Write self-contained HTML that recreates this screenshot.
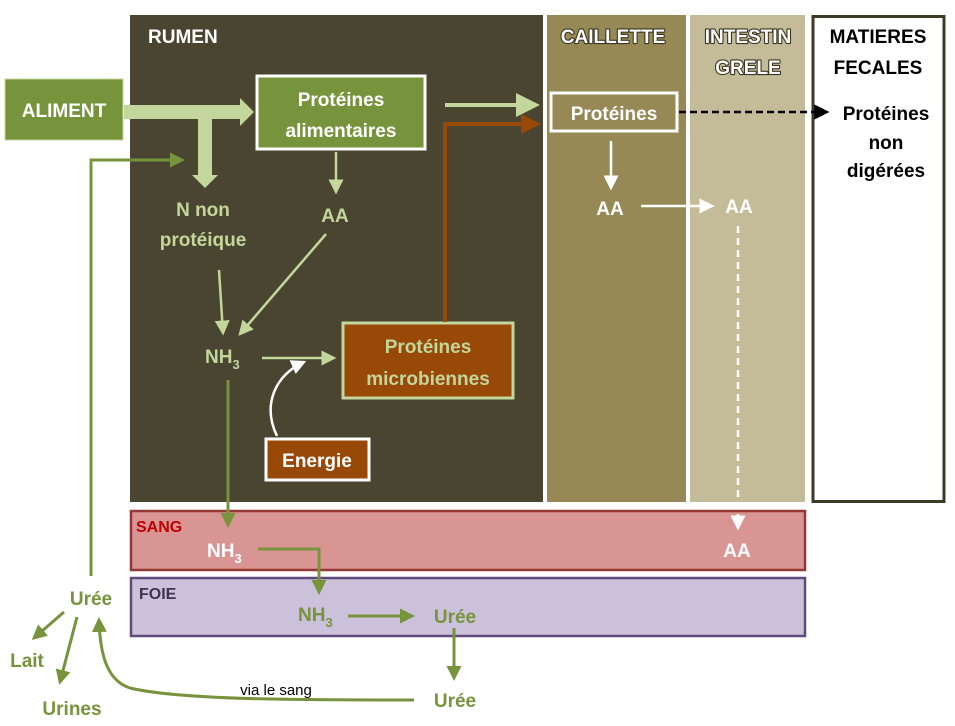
<!DOCTYPE html>
<html><head><meta charset="utf-8"><style>
html,body{margin:0;padding:0;background:#fff;}
svg{display:block;}
text{font-family:"Liberation Sans",sans-serif;font-weight:bold;}
.ol{paint-order:stroke;stroke:#3a3520;stroke-width:2.2px;stroke-linejoin:round;}
</style></head><body>
<svg width="955" height="726" viewBox="0 0 955 726">
<defs>
<marker id="mL" markerWidth="6" markerHeight="6" refX="5" refY="3" orient="auto" markerUnits="strokeWidth"><path d="M0,0 L6,3 L0,6 Z" fill="#c3d69b"/></marker>
<marker id="mG" markerWidth="5" markerHeight="5" refX="4" refY="2.5" orient="auto" markerUnits="strokeWidth"><path d="M0,0 L5,2.5 L0,5 Z" fill="#77933c"/></marker>
<marker id="mW" markerWidth="6" markerHeight="6" refX="5" refY="3" orient="auto" markerUnits="strokeWidth"><path d="M0,0 L6,3 L0,6 Z" fill="#fff"/></marker>
<marker id="mB" markerWidth="5" markerHeight="5" refX="4" refY="2.5" orient="auto" markerUnits="strokeWidth"><path d="M0,0 L5,2.5 L0,5 Z" fill="#984807"/></marker>
<marker id="mK" markerWidth="6" markerHeight="6" refX="5" refY="3" orient="auto" markerUnits="strokeWidth"><path d="M0,0 L6,3 L0,6 Z" fill="#000"/></marker>
</defs>
<rect x="130" y="15" width="413" height="487" fill="#4a4530"/>
<rect x="547" y="15" width="139" height="487" fill="#968955"/>
<rect x="690" y="15" width="115" height="487" fill="#c4bc98"/>
<rect x="813" y="16.5" width="131" height="485" fill="#fff" stroke="#3d3a28" stroke-width="3"/>
<rect x="131" y="511" width="674" height="59" fill="#d99594" stroke="#953735" stroke-width="2.5"/>
<rect x="131" y="578" width="674" height="58" fill="#ccc1da" stroke="#604a7b" stroke-width="2.5"/>

<text x="148" y="43" fill="#fff" font-size="19">RUMEN</text>
<text class="ol" x="613" y="43" fill="#fff" font-size="19" text-anchor="middle">CAILLETTE</text>
<text class="ol" x="748" y="43" fill="#fff" font-size="19" text-anchor="middle"><tspan x="748">INTESTIN</tspan><tspan x="748" dy="31">GRELE</tspan></text>
<text x="878" y="43" fill="#000" font-size="19" text-anchor="middle"><tspan x="878">MATIERES</tspan><tspan x="878" dy="31">FECALES</tspan></text>
<text x="136" y="532" fill="#c00000" font-size="16">SANG</text>
<text x="139" y="599" fill="#3f3151" font-size="16">FOIE</text>

<rect x="5" y="79" width="118" height="61" fill="#77933c" stroke="#c3d69b" stroke-width="1"/>
<text x="64" y="117" fill="#fff" font-size="19" text-anchor="middle">ALIMENT</text>
<path d="M124,105 H240 V98 L254,112 L240,126 V119 H212 V175 H218 L205,188 L192,175 H198 V119 H124 Z" fill="#c3d69b"/>

<rect x="257" y="76" width="168" height="73" fill="#77933c" stroke="#fff" stroke-width="3"/>
<text fill="#fff" font-size="19" text-anchor="middle"><tspan x="341" y="106">Protéines</tspan><tspan x="341" y="137">alimentaires</tspan></text>

<line x1="336" y1="152" x2="336" y2="192" stroke="#c3d69b" stroke-width="2.5" marker-end="url(#mL)"/>
<text fill="#c3d69b" font-size="19" text-anchor="middle"><tspan x="203" y="216">N non</tspan><tspan x="203" y="246">protéique</tspan></text>
<text x="335" y="222" fill="#c3d69b" font-size="19" text-anchor="middle">AA</text>
<line x1="219" y1="270" x2="223" y2="333" stroke="#c3d69b" stroke-width="2.5" marker-end="url(#mL)"/>
<line x1="326" y1="234" x2="240" y2="334" stroke="#c3d69b" stroke-width="2.5" marker-end="url(#mL)"/>
<text x="205" y="363" fill="#c3d69b" font-size="19">NH<tspan font-size="13" dy="6">3</tspan></text>
<line x1="262" y1="358" x2="334" y2="358" stroke="#c3d69b" stroke-width="2.5" marker-end="url(#mL)"/>

<rect x="343" y="323" width="170" height="75" fill="#984807" stroke="#c3d69b" stroke-width="3"/>
<text fill="#c3d69b" font-size="19" text-anchor="middle"><tspan x="428" y="353">Protéines</tspan><tspan x="428" y="385">microbiennes</tspan></text>
<rect x="266" y="439" width="103" height="41" fill="#984807" stroke="#fff" stroke-width="3"/>
<text x="317" y="467" fill="#fff" font-size="19" text-anchor="middle">Energie</text>
<path d="M277,436 C262,405 275,375 304,362" fill="none" stroke="#fff" stroke-width="2.5" marker-end="url(#mW)"/>

<path d="M445,322 V124 H537" fill="none" stroke="#984807" stroke-width="4" marker-end="url(#mB)"/>
<line x1="445" y1="105" x2="536" y2="105" stroke="#c3d69b" stroke-width="4" marker-end="url(#mL)"/>

<rect x="551" y="93" width="126" height="38" fill="#968955" stroke="#fff" stroke-width="3"/>
<text x="614" y="120" fill="#fff" font-size="19" text-anchor="middle">Protéines</text>
<line x1="679" y1="112" x2="827" y2="112" stroke="#000" stroke-width="2.5" stroke-dasharray="7,4" marker-end="url(#mK)"/>
<text fill="#000" font-size="19" text-anchor="middle"><tspan x="886" y="120">Protéines</tspan><tspan x="886" y="149">non</tspan><tspan x="886" y="177">digérées</tspan></text>
<line x1="611" y1="141" x2="611" y2="188" stroke="#fff" stroke-width="2.5" marker-end="url(#mW)"/>
<text x="610" y="215" fill="#fff" font-size="19" text-anchor="middle">AA</text>
<line x1="641" y1="206" x2="712" y2="206" stroke="#fff" stroke-width="2.5" marker-end="url(#mW)"/>
<text x="739" y="213" fill="#fff" font-size="19" text-anchor="middle">AA</text>
<line x1="738" y1="226" x2="738" y2="528" stroke="#fff" stroke-width="2.5" stroke-dasharray="7,5" marker-end="url(#mW)"/>
<text x="737" y="557" fill="#fff" font-size="19" text-anchor="middle">AA</text>

<line x1="228" y1="380" x2="228" y2="525" stroke="#77933c" stroke-width="3" marker-end="url(#mG)"/>
<text x="207" y="557" fill="#fff" font-size="19">NH<tspan font-size="13" dy="6">3</tspan></text>
<path d="M258,549 H319 V592" fill="none" stroke="#77933c" stroke-width="3" marker-end="url(#mG)"/>
<text x="298" y="621" fill="#77933c" font-size="19">NH<tspan font-size="13" dy="6">3</tspan></text>
<line x1="348" y1="616" x2="412" y2="616" stroke="#77933c" stroke-width="3" marker-end="url(#mG)"/>
<text x="455" y="623" fill="#77933c" font-size="19" text-anchor="middle">Urée</text>
<line x1="454" y1="628" x2="454" y2="678" stroke="#77933c" stroke-width="3" marker-end="url(#mG)"/>
<text x="455" y="707" fill="#77933c" font-size="19" text-anchor="middle">Urée</text>
<path d="M414,700 C300,700 180,700 130,688 C105,680 100,650 99,620" fill="none" stroke="#77933c" stroke-width="3" marker-end="url(#mG)"/>
<text x="276" y="695" fill="#000" font-size="15" style="font-weight:normal" text-anchor="middle">via le sang</text>
<text x="91" y="605" fill="#77933c" font-size="19" text-anchor="middle">Urée</text>
<path d="M91,576 V160 H182" fill="none" stroke="#77933c" stroke-width="3" marker-end="url(#mG)"/>
<line x1="64" y1="612" x2="34" y2="638" stroke="#77933c" stroke-width="3" marker-end="url(#mG)"/>
<line x1="77" y1="617" x2="60" y2="682" stroke="#77933c" stroke-width="3" marker-end="url(#mG)"/>
<text x="27" y="667" fill="#77933c" font-size="19" text-anchor="middle">Lait</text>
<text x="72" y="715" fill="#77933c" font-size="19" text-anchor="middle">Urines</text>
</svg>
</body></html>
